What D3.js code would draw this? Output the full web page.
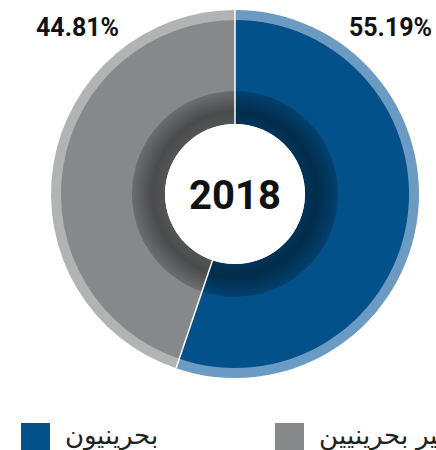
<!DOCTYPE html>
<html>
<head>
<meta charset="utf-8">
<style>
    body { margin: 0; background: #fff; }
</style>
</head>
<body>
<svg id="chart" width="436" height="450"></svg>
<script src="https://d3js.org/d3.v7.min.js"></script>
<script>
    // data
    let categories = ['بحرينيون', 'غير بحرينيين']
    let values = [55.19, 44.81]
    let valueLabels = ['55.19%', '44.81%']
    let year = '2018'

    let mainColors = ['#03518a', '#87888a']
    let rimColors = ['#6b9bc2', '#b2b3b5']

    let svg = d3.select('#chart')
    let cx = 235, cy = 194

    let pie = d3.pie().sort(null).value(d => d)
    let slices = pie(values)

    let g = svg.append('g').attr('transform', 'translate(' + cx + ',' + cy + ')')

    // outer light rim
    let rimArc = d3.arc().innerRadius(173).outerRadius(184)
    g.selectAll('.rim')
        .data(slices)
        .enter().append('path')
        .attr('d', rimArc)
        .attr('fill', (d, i) => rimColors[i])

    // main band
    let mainArc = d3.arc().innerRadius(70).outerRadius(174)
    g.selectAll('.main')
        .data(slices)
        .enter().append('path')
        .attr('d', mainArc)
        .attr('fill', (d, i) => mainColors[i])

    // shadow ring inside
    let defs = svg.append('defs')
    let grad = defs.append('radialGradient')
        .attr('id', 'shade')
        .attr('gradientUnits', 'userSpaceOnUse')
        .attr('cx', 0).attr('cy', 0).attr('r', 103)
    grad.append('stop').attr('offset', 0.68).attr('stop-color', '#000').attr('stop-opacity', 0.38)
    grad.append('stop').attr('offset', 0.8).attr('stop-color', '#000').attr('stop-opacity', 0.45)
    grad.append('stop').attr('offset', 1).attr('stop-color', '#000').attr('stop-opacity', 0.2)

    g.append('path')
        .attr('d', d3.arc().innerRadius(70).outerRadius(103).startAngle(0).endAngle(2 * Math.PI)())
        .attr('fill', 'url(#shade)')

    // slice separators
    slices.forEach(d => {
        let a = d.startAngle
        g.append('line')
            .attr('x1', Math.sin(a) * 70).attr('y1', -Math.cos(a) * 70)
            .attr('x2', Math.sin(a) * 184).attr('y2', -Math.cos(a) * 184)
            .attr('stroke', '#fff')
            .attr('stroke-width', 1.5)
    })

    // centre
    g.append('circle').attr('r', 70).attr('fill', '#fff')
    g.append('text')
        .attr('text-anchor', 'middle')
        .attr('dy', 15)
        .style('font-family', 'Roboto')
        .style('font-weight', 'bold')
        .style('font-size', '40px')
        .attr('fill', '#111')
        .text(year)

    // percentage labels
    let labelX = [432, 36]
    let labelAnchor = ['end', 'start']
    svg.selectAll('.pct')
        .data(valueLabels)
        .enter().append('text')
        .attr('x', (d, i) => labelX[i])
        .attr('y', 36)
        .attr('text-anchor', (d, i) => labelAnchor[i])
        .style('font-family', 'Roboto')
        .style('font-weight', 'bold')
        .style('font-size', '25px')
        .attr('fill', '#111')
        .text(d => d)

    // legend
    let legX = [21, 275]
    let legend = svg.selectAll('.leg')
        .data(categories)
        .enter().append('g')
        .attr('transform', (d, i) => 'translate(' + legX[i] + ',423)')
    legend.append('rect')
        .attr('width', 29).attr('height', 29)
        .attr('fill', (d, i) => mainColors[i])
    legend.append('text')
        .attr('x', 44)
        .attr('y', 21)
        .attr('direction', 'ltr')
        .attr('text-anchor', 'start')
        .style('font-family', 'DejaVu Sans')
        .style('font-weight', 200)
        .style('font-size', '26px')
        .attr('fill', '#222')
        .text(d => d)
</script>
</body>
</html>
